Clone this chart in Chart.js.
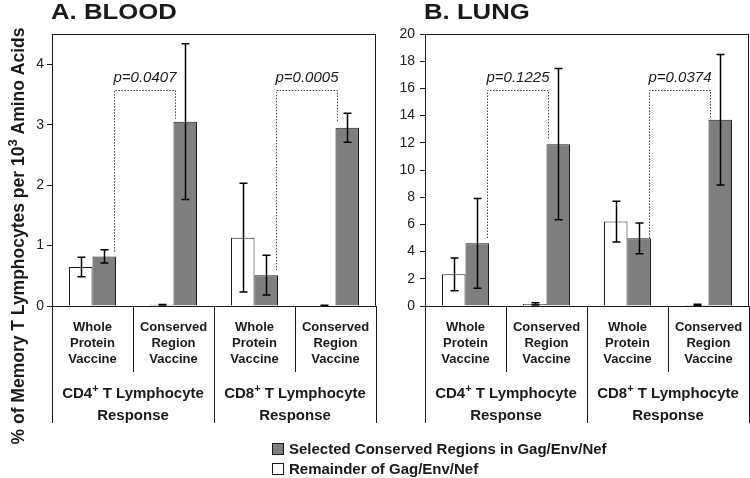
<!DOCTYPE html>
<html>
<head>
<meta charset="utf-8">
<script src="https://cdn.jsdelivr.net/npm/chart.js@4.4.1/dist/chart.umd.min.js"></script>
<style>
    html, body { margin: 0; padding: 0; background: #fff; }
    #wrap { position: relative; width: 750px; height: 478px; overflow: hidden; }
    #wrapA { position: absolute; left: 0; top: 0; width: 385px; height: 478px; }
    #wrapB { position: absolute; left: 380px; top: 0; width: 370px; height: 478px; }
    .legend { position: absolute; left: 272px; top: 439px; font: bold 15px 'Liberation Sans', Arial, sans-serif; color: #1a1a1a; }
    .legend div { height: 20px; line-height: 20px; white-space: nowrap; }
    .legend .box { display: inline-block; width: 10px; height: 10px; border: 1px solid #1a1a1a; margin-right: 5px; vertical-align: -1px; }
</style>
</head>
<body>
<div id="wrap">
    <div id="wrapA"><canvas id="bloodChart" width="385" height="478"></canvas></div>
    <div id="wrapB"><canvas id="lungChart" width="370" height="478"></canvas></div>
    <div class="legend">
        <div><span class="box" style="background:#7f7f7f"></span>Selected Conserved Regions in Gag/Env/Nef</div>
        <div><span class="box" style="background:#fff"></span>Remainder of Gag/Env/Nef</div>
    </div>
</div>
<script>
// Data
const vaccineLabels = [['Whole', 'Protein', 'Vaccine'], ['Conserved', 'Region', 'Vaccine'], ['Whole', 'Protein', 'Vaccine'], ['Conserved', 'Region', 'Vaccine']];
const responseGroups = ['CD4⁺ T Lymphocyte', 'CD8⁺ T Lymphocyte'];
const responseWord = 'Response';
const yTitle = '% of Memory T Lymphocytes per 10³ Amino Acids';

const bloodRemainder = [0.645, 0.02, 1.13, 0.01];
const bloodRemainderErr = [0.16, 0.005, 0.9, 0.003];
const bloodSelected = [0.82, 3.05, 0.51, 2.95];
const bloodSelectedErr = [0.11, 1.29, 0.33, 0.24];
const bloodPValues = ['p=0.0407', 'p=0.0005'];
const bloodBracketTop = [3.58, 3.58];
const bloodBracketLeftEnd = [0.9, 0.59];
const bloodBracketRightEnd = [3.1, 3.05];

const lungRemainder = [2.33, 0.15, 6.21, 0.08];
const lungRemainderErr = [1.2, 0.08, 1.5, 0.05];
const lungSelected = [4.61, 11.9, 4.98, 13.69];
const lungSelectedErr = [3.3, 5.56, 1.13, 4.8];
const lungPValues = ['p=0.1225', 'p=0.0374'];
const lungBracketTop = [15.9, 15.9];
const lungBracketLeftEnd = [5.0, 5.0];
const lungBracketRightEnd = [12.2, 13.9];

const FONT = "'Liberation Sans', Arial, Helvetica, sans-serif";
const INK = '#1a1a1a';

// superscript helpers for CD4+ and 10^3
const SUP = { '⁺': '+', '³': '3' };
function richRuns(text) {
    const runs = [];
    for (const ch of text) {
        const sup = ch in SUP;
        const c = sup ? SUP[ch] : ch;
        const last = runs[runs.length - 1];
        if (last && last.sup === sup) last.t += c; else runs.push({ t: c, sup });
    }
    return runs;
}
function drawRich(ctx, text, x, y, size) {
    const runs = richRuns(text);
    const supSize = Math.round(size * 0.72);
    let total = 0;
    runs.forEach(r => {
        ctx.font = `bold ${r.sup ? supSize : size}px ${FONT}`;
        r.w = ctx.measureText(r.t).width;
        total += r.w;
    });
    let cx = x - total / 2;
    ctx.textAlign = 'left';
    ctx.textBaseline = 'alphabetic';
    runs.forEach(r => {
        ctx.font = `bold ${r.sup ? supSize : size}px ${FONT}`;
        ctx.fillText(r.t, cx, y + size * 0.36 - (r.sup ? size * 0.42 : 0));
        cx += r.w;
    });
}

const decorPlugin = {
    id: 'decor',
    afterDatasetsDraw(chart, args, opts) {
        const { ctx, chartArea: ca, scales: { x, y } } = chart;
        ctx.save();

        // error bars
        opts.errors.forEach((errs, di) => {
            const meta = chart.getDatasetMeta(di);
            const vals = chart.data.datasets[di].data;
            ctx.strokeStyle = '#000';
            ctx.lineWidth = 1.5;
            meta.data.forEach((bar, i) => {
                const bx = Math.round(bar.x) + 0.5;
                const yTop = y.getPixelForValue(vals[i] + errs[i]);
                const yBot = y.getPixelForValue(Math.max(0, vals[i] - errs[i]));
                ctx.beginPath();
                ctx.moveTo(bx, yTop); ctx.lineTo(bx, yBot);
                ctx.moveTo(bx - 4, yTop); ctx.lineTo(bx + 4, yTop);
                ctx.moveTo(bx - 4, yBot); ctx.lineTo(bx + 4, yBot);
                ctx.stroke();
            });
        });

        // p-value brackets
        const gray = chart.getDatasetMeta(1).data;
        opts.pValues.forEach((p, k) => {
            const l = gray[2 * k], r = gray[2 * k + 1];
            const xl = Math.round(l.x + l.width / 2) - 1.5;
            const xr = Math.round(r.x - r.width / 2) + 1.5;
            const yt = Math.round(y.getPixelForValue(opts.top[k])) + 0.5;
            ctx.strokeStyle = '#444';
            ctx.lineWidth = 1;
            ctx.setLineDash([1.5, 1.5]);
            ctx.beginPath();
            ctx.moveTo(xl, y.getPixelForValue(opts.leftEnd[k]));
            ctx.lineTo(xl, yt);
            ctx.lineTo(xr, yt);
            ctx.lineTo(xr, y.getPixelForValue(opts.rightEnd[k]));
            ctx.stroke();
            ctx.setLineDash([]);
            ctx.fillStyle = INK;
            ctx.font = `italic 15px ${FONT}`;
            ctx.textAlign = 'center';
            ctx.textBaseline = 'middle';
            ctx.fillText(p, (xl + xr) / 2, yt - 13);
        });

        // plot frame
        ctx.strokeStyle = INK;
        ctx.lineWidth = 1;
        ctx.strokeRect(Math.round(ca.left) + 0.5, Math.round(ca.top) + 0.5, Math.round(ca.width) - 1, Math.round(ca.bottom - ca.top));

        // category separators
        const sep = (v, bottom) => {
            const sx = Math.round(x.getPixelForValue(v)) + 0.5;
            ctx.beginPath();
            ctx.moveTo(sx, ca.bottom);
            ctx.lineTo(sx, bottom);
            ctx.stroke();
        };
        [0.5, 2.5].forEach(v => sep(v, 372));
        [-0.5, 1.5, 3.5].forEach(v => sep(v, 423));

        // response group labels
        ctx.fillStyle = INK;
        responseGroups.forEach((g, gi) => {
            const cx = x.getPixelForValue(gi * 2 + 0.5);
            drawRich(ctx, g, cx, 393, 15);
            drawRich(ctx, responseWord, cx, 415, 15);
        });

        // panel title
        ctx.save();
        ctx.translate(ca.left - 1, 19);
        ctx.scale(1.17, 1);
        ctx.font = `bold 22px ${FONT}`;
        ctx.textAlign = 'left';
        ctx.textBaseline = 'alphabetic';
        ctx.fillText(opts.title, 0, 0);
        ctx.restore();

        // y axis title
        if (opts.yTitle) {
            ctx.save();
            ctx.translate(18, 236);
            ctx.rotate(-Math.PI / 2);
            drawRich(ctx, opts.yTitle, 0, 0, 17.5);
            ctx.restore();
        }
        ctx.restore();
    }
};

function makeChart(id, remainder, selected, cfg) {
    return new Chart(document.getElementById(id), {
        type: 'bar',
        data: {
            labels: vaccineLabels,
            datasets: [
                { label: 'Remainder of Gag/Env/Nef', data: remainder, backgroundColor: '#ffffff', borderColor: INK, borderWidth: 1, categoryPercentage: 0.58, barPercentage: 1 },
                { label: 'Selected Conserved Regions in Gag/Env/Nef', data: selected, backgroundColor: '#7f7f7f', borderColor: INK, borderWidth: 1, categoryPercentage: 0.58, barPercentage: 1 }
            ]
        },
        options: {
            responsive: false,
            animation: false,
            layout: { padding: { left: 0, top: 34, right: cfg.padRight, bottom: 60 } },
            scales: {
                x: {
                    grid: { display: false },
                    border: { display: false },
                    ticks: { color: INK, padding: 6, maxRotation: 0, autoSkip: false, font: { family: FONT, size: 13, weight: 'bold', lineHeight: 1.2 } },
                    afterFit: s => { s.height = 112; }
                },
                y: {
                    min: 0,
                    max: cfg.max,
                    grid: { drawOnChartArea: false, drawTicks: true, tickLength: 5, color: INK },
                    border: { display: false },
                    ticks: { stepSize: cfg.step, padding: cfg.tickPad, color: '#222', font: { family: FONT, size: 14 } },
                    afterBuildTicks: s => { s.ticks = s.ticks.filter(t => Math.abs(t.value / cfg.step - Math.round(t.value / cfg.step)) < 1e-9); },
                    afterFit: s => { s.width = cfg.axisWidth; }
                }
            },
            plugins: {
                legend: { display: false },
                tooltip: { enabled: false },
                decor: cfg.decor
            }
        },
        plugins: [decorPlugin]
    });
}

makeChart('bloodChart', bloodRemainder, bloodSelected, {
    max: 4.5, step: 1, axisWidth: 52, tickPad: 3, padRight: 9,
    decor: {
        errors: [bloodRemainderErr, bloodSelectedErr],
        pValues: bloodPValues, top: bloodBracketTop, leftEnd: bloodBracketLeftEnd, rightEnd: bloodBracketRightEnd,
        title: 'A. BLOOD', yTitle: yTitle
    }
});

makeChart('lungChart', lungRemainder, lungSelected, {
    max: 20, step: 2, axisWidth: 45, tickPad: 5, padRight: 1,
    decor: {
        errors: [lungRemainderErr, lungSelectedErr],
        pValues: lungPValues, top: lungBracketTop, leftEnd: lungBracketLeftEnd, rightEnd: lungBracketRightEnd,
        title: 'B. LUNG', yTitle: null
    }
});
</script>
</body>
</html>
